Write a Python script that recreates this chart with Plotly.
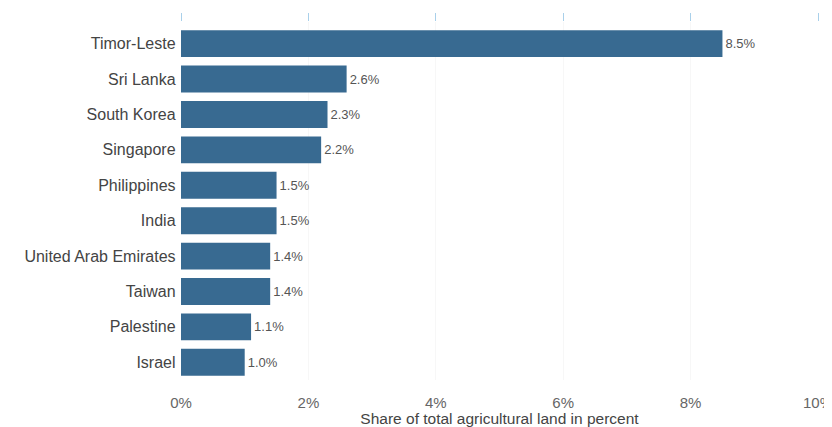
import plotly.graph_objects as go

countries = ["Timor-Leste", "Sri Lanka", "South Korea", "Singapore", "Philippines",
             "India", "United Arab Emirates", "Taiwan", "Palestine", "Israel"]
values = [8.5, 2.6, 2.3, 2.2, 1.5, 1.5, 1.4, 1.4, 1.1, 1.0]
labels = ["8.5%", "2.6%", "2.3%", "2.2%", "1.5%", "1.5%", "1.4%", "1.4%", "1.1%", "1.0%"]
tick_vals = [0, 2, 4, 6, 8, 10]
tick_text = ["0%", "2%", "4%", "6%", "8%", "10%"]

font = "Liberation Sans, Arial, sans-serif"
fig = go.Figure()
fig.add_trace(go.Bar(
    y=countries, x=values, orientation="h",
    marker=dict(color="#386a91", line=dict(width=0)),
    text=labels, textposition="outside", cliponaxis=False,
    textfont=dict(family=font, size=13, color="#555555"),
))
# invisible trace for the top axis ticks
fig.add_trace(go.Scatter(x=[0, 10], y=[countries[0], countries[0]], xaxis="x2",
                         mode="markers", marker=dict(opacity=0), hoverinfo="skip",
                         showlegend=False))
fig.update_layout(
    width=824, height=419,
    margin=dict(l=173, r=14, t=14, b=47),
    paper_bgcolor="white", plot_bgcolor="white",
    bargap=0.24, showlegend=False,
    font=dict(family=font, size=15, color="#555555"),
    xaxis=dict(range=[0, 10], tickvals=tick_vals, ticktext=tick_text,
               showgrid=True, gridcolor="#f7f7f7", zeroline=False, automargin=False,
               ticks="outside", ticklen=9, tickcolor="rgba(0,0,0,0)",
               ticklabeloverflow="allow",
               tickfont=dict(size=15, color="#666666"),
               title=dict(text="Share of total agricultural land in percent",
                          font=dict(size=15.5, color="#444444"), standoff=2)),
    xaxis2=dict(range=[0, 10], overlaying="x", side="top", tickvals=tick_vals,
                showticklabels=False, ticks="outside", ticklen=8, automargin=False,
                tickcolor="#a9d0ea", tickwidth=1, showgrid=False, zeroline=False,
                showline=False),
    yaxis=dict(categoryorder="array", categoryarray=countries[::-1], automargin=False,
               ticks="", ticksuffix=" ", tickfont=dict(size=16, color="#444444"),
               showgrid=False, zeroline=False),
)
fig.write_html("out.html")
